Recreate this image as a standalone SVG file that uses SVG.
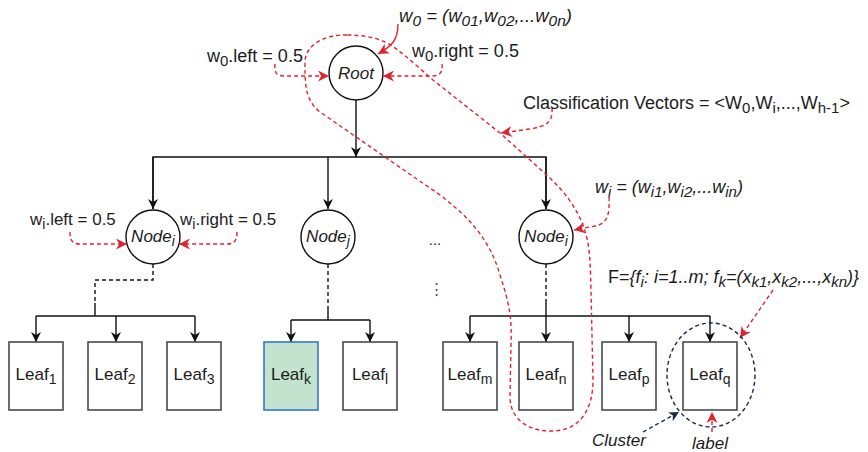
<svg xmlns="http://www.w3.org/2000/svg" width="868" height="452" viewBox="0 0 868 452">
  <defs>
    <style>
      text { font-family: "Liberation Sans", Arial, sans-serif; fill: #1c1c1c; }
      .lbl { font-size: 17px; }
      .big { font-size: 18px; }
      .it { font-style: italic; }
      .leaf { fill: #ffffff; stroke: #3b3e43; stroke-width: 1.5; }
      .leafsel { fill: #c3e3cf; stroke: #2a6fd6; stroke-width: 1.5; }
      .node { fill: #ffffff; stroke: #111111; stroke-width: 1.4; }
      .edge { fill: none; stroke: #111111; stroke-width: 1.4; }
      .edge-d { fill: none; stroke: #111111; stroke-width: 1.4; stroke-dasharray: 4 3; }
      .red { fill: none; stroke: #e0242f; stroke-width: 1.4; stroke-dasharray: 4 3; }
      .red-s { fill: none; stroke: #e0242f; stroke-width: 1.4; }
      .navy { fill: none; stroke: #1b2a49; stroke-width: 1.4; stroke-dasharray: 4 3; }
    </style>
    <marker id="ah" viewBox="0 0 10 10" refX="10" refY="5" markerWidth="10" markerHeight="10" markerUnits="userSpaceOnUse" orient="auto">
      <path d="M0,0 L10,5 L0,10 L3,5 Z" fill="#111111"/>
    </marker>
    <marker id="ahr" viewBox="0 0 10 10" refX="10" refY="5" markerWidth="11" markerHeight="11" markerUnits="userSpaceOnUse" orient="auto">
      <path d="M0,0 L10,5 L0,10 L3,5 Z" fill="#e0242f"/>
    </marker>
    <marker id="ahn" viewBox="0 0 10 10" refX="10" refY="5" markerWidth="10" markerHeight="10" markerUnits="userSpaceOnUse" orient="auto">
      <path d="M0,0 L10,5 L0,10 L3,5 Z" fill="#1b2a49"/>
    </marker>
  </defs>

  <!-- tree connectors -->
  <g id="connectors">
    <line class="edge" x1="356" y1="100" x2="356" y2="157" marker-end="url(#ah)"/>
    <polyline class="edge" points="153,209 153,157 546,157 546,209"/>
    <line class="edge" x1="153" y1="157" x2="153" y2="209" marker-end="url(#ah)"/>
    <line class="edge" x1="328" y1="157" x2="328" y2="209" marker-end="url(#ah)"/>
    <line class="edge" x1="546" y1="157" x2="546" y2="209" marker-end="url(#ah)"/>

    <!-- Node_i (left) to leaves 1..3 -->
    <path class="edge-d" d="M153,264 V280 H95 V303"/>
    <line class="edge" x1="95" y1="303" x2="95" y2="316" stroke-width="2"/>
    <polyline class="edge" points="36,316 195,316"/>
    <line class="edge" x1="36" y1="316" x2="36" y2="342" marker-end="url(#ah)"/>
    <line class="edge" x1="116" y1="316" x2="116" y2="342" marker-end="url(#ah)"/>
    <line class="edge" x1="195" y1="316" x2="195" y2="342" marker-end="url(#ah)"/>

    <!-- Node_j to leaves k, l -->
    <line class="edge-d" x1="328" y1="264" x2="328" y2="308"/>
    <line class="edge" x1="328" y1="308" x2="328" y2="320" stroke-width="2"/>
    <polyline class="edge" points="291,320 370,320"/>
    <line class="edge" x1="291" y1="320" x2="291" y2="342" marker-end="url(#ah)"/>
    <line class="edge" x1="370" y1="320" x2="370" y2="342" marker-end="url(#ah)"/>

    <!-- Node_i (right) to leaves m..q -->
    <line class="edge-d" x1="546" y1="264" x2="546" y2="300"/>
    <line class="edge" x1="546" y1="300" x2="546" y2="316" stroke-width="2"/>
    <polyline class="edge" points="470,316 710,316"/>
    <line class="edge" x1="470" y1="316" x2="470" y2="342" marker-end="url(#ah)"/>
    <line class="edge" x1="546" y1="316" x2="546" y2="342" marker-end="url(#ah)"/>
    <line class="edge" x1="629" y1="316" x2="629" y2="342" marker-end="url(#ah)"/>
    <line class="edge" x1="710" y1="316" x2="710" y2="342" marker-end="url(#ah)"/>
  </g>

  <!-- nodes -->
  <g id="root">
    <circle class="node" cx="356" cy="73" r="27"/>
    <text class="lbl it" x="356" y="79" text-anchor="middle">Root</text>
  </g>
  <g id="node-i-left">
    <circle class="node" cx="153" cy="237" r="27"/>
    <text class="lbl it" x="153" y="242" text-anchor="middle">Node<tspan dy="4" font-size="14">i</tspan></text>
  </g>
  <g id="node-j">
    <circle class="node" cx="328" cy="237" r="27"/>
    <text class="lbl it" x="328" y="242" text-anchor="middle">Node<tspan dy="4" font-size="14">j</tspan></text>
  </g>
  <g id="node-i-right">
    <circle class="node" cx="546" cy="237" r="27"/>
    <text class="lbl it" x="546" y="242" text-anchor="middle">Node<tspan dy="4" font-size="14">i</tspan></text>
  </g>

  <g id="leaf-1"><rect class="leaf" x="9" y="342" width="54" height="68"/><text x="36" y="380" font-size="17" text-anchor="middle">Leaf<tspan dy="4" font-size="14">1</tspan></text></g>
  <g id="leaf-2"><rect class="leaf" x="88" y="342" width="54" height="68"/><text x="115" y="380" font-size="17" text-anchor="middle">Leaf<tspan dy="4" font-size="14">2</tspan></text></g>
  <g id="leaf-3"><rect class="leaf" x="167" y="342" width="54" height="68"/><text x="194" y="380" font-size="17" text-anchor="middle">Leaf<tspan dy="4" font-size="14">3</tspan></text></g>
  <g id="leaf-k"><rect class="leafsel" x="264" y="342" width="54" height="68"/><text x="291" y="380" font-size="17" text-anchor="middle">Leaf<tspan dy="4" font-size="14">k</tspan></text></g>
  <g id="leaf-l"><rect class="leaf" x="343" y="342" width="54" height="68"/><text x="370" y="380" font-size="17" text-anchor="middle">Leaf<tspan dy="4" font-size="14">l</tspan></text></g>
  <g id="leaf-m"><rect class="leaf" x="443" y="342" width="54" height="68"/><text x="470" y="380" font-size="17" text-anchor="middle">Leaf<tspan dy="4" font-size="14">m</tspan></text></g>
  <g id="leaf-n"><rect class="leaf" x="519" y="342" width="54" height="68"/><text x="546" y="380" font-size="17" text-anchor="middle">Leaf<tspan dy="4" font-size="14">n</tspan></text></g>
  <g id="leaf-p"><rect class="leaf" x="602" y="342" width="54" height="68"/><text x="629" y="380" font-size="17" text-anchor="middle">Leaf<tspan dy="4" font-size="14">p</tspan></text></g>
  <g id="leaf-q"><rect class="leaf" x="683" y="342" width="54" height="68"/><text x="710" y="380" font-size="17" text-anchor="middle">Leaf<tspan dy="4" font-size="14">q</tspan></text></g>

  <!-- ellipsis marks between subtrees -->
  <text x="435" y="245" font-size="15" text-anchor="middle">...</text>
  <text x="436" y="294" font-size="15" text-anchor="middle" style="fill:#4a3a8c">⋮</text>

  <!-- annotations -->
  <g id="annotations">
    <!-- classification path loop -->
    <path class="red" d="M347,35 C325,34 305,45 305,62 C305,85 305,100 320,112 L440,195 C470,218 490,240 500,275 C510,305 512,320 511,345 L510,395 C509,420 530,432 553,431 C580,430 593,410 593,380 L591,290 C590,255 590,240 580,218 C570,198 560,188 550,178 L500,133 L433,80 C410,60 400,50 385,42 C375,37 360,35 347,35 Z"/>

    <path class="red-s" d="M398,24 C398,40 392,46 378,54" marker-end="url(#ahr)"/>
    <path class="red" d="M275,64 C274,72 276,76 284,76 L329,76" marker-end="url(#ahr)"/>
    <path class="red" d="M442,64 C443,72 440,76 432,76 L383,76" marker-end="url(#ahr)"/>
    <path class="red" d="M552,108 C553,124 545,126 530,129 L501,133" marker-end="url(#ahr)"/>
    <path class="red" d="M609,197 C610,215 607,224 595,226 L574,230" marker-end="url(#ahr)"/>
    <path class="red" d="M70,232 C70,240 72,244 80,244 L127,244" marker-end="url(#ahr)"/>
    <path class="red" d="M237,232 C237,240 235,244 227,244 L179,244" marker-end="url(#ahr)"/>
    <path class="red" d="M773,290 L740,338" marker-end="url(#ahr)"/>
    <path class="red" d="M712,432 L712,412" marker-end="url(#ahr)"/>

    <!-- cluster outline -->
    <ellipse class="navy" cx="711" cy="375" rx="44" ry="52"/>
    <path class="navy" d="M643,432 L679,412" marker-end="url(#ahn)"/>

    <text class="it" font-size="18.5" x="399" y="22">w<tspan dy="4" font-size="15.5">0</tspan><tspan dy="-4"> = (w</tspan><tspan dy="4" font-size="15.5">01</tspan><tspan dy="-4">,w</tspan><tspan dy="4" font-size="15.5">02</tspan><tspan dy="-4">,...w</tspan><tspan dy="4" font-size="15.5">0n</tspan><tspan dy="-4">)</tspan></text>
    <text class="big" x="207" y="62">w<tspan dy="4" font-size="15">0</tspan><tspan dy="-4">.left = 0.5</tspan></text>
    <text class="big" x="412" y="57">w<tspan dy="4" font-size="15">0</tspan><tspan dy="-4">.right = 0.5</tspan></text>
    <text class="big" x="523" y="109">Classification Vectors = &lt;W<tspan dy="4" font-size="15">0</tspan><tspan dy="-4">,W</tspan><tspan dy="4" font-size="15">i</tspan><tspan dy="-4">,...,W</tspan><tspan dy="4" font-size="15">h-1</tspan><tspan dy="-4">&gt;</tspan></text>
    <text class="it" font-size="18" x="595" y="193">w<tspan dy="4" font-size="15">i</tspan><tspan dy="-4"> = (w</tspan><tspan dy="4" font-size="15">i1</tspan><tspan dy="-4">,w</tspan><tspan dy="4" font-size="15">i2</tspan><tspan dy="-4">,...w</tspan><tspan dy="4" font-size="15">in</tspan><tspan dy="-4">)</tspan></text>
    <text class="lbl" x="30" y="225">w<tspan dy="4" font-size="14">i</tspan><tspan dy="-4">.left = 0.5</tspan></text>
    <text class="lbl" x="180" y="225">w<tspan dy="4" font-size="14">i</tspan><tspan dy="-4">.right = 0.5</tspan></text>
    <text class="big" x="608" y="283">F=<tspan font-style="italic">{f</tspan><tspan dy="4" font-size="15" font-style="italic">i</tspan><tspan dy="-4" font-style="italic">: i=1..m; f</tspan><tspan dy="4" font-size="15" font-style="italic">k</tspan><tspan dy="-4" font-style="italic">=(x</tspan><tspan dy="4" font-size="15" font-style="italic">k1</tspan><tspan dy="-4" font-style="italic">,x</tspan><tspan dy="4" font-size="15" font-style="italic">k2</tspan><tspan dy="-4" font-style="italic">,...,x</tspan><tspan dy="4" font-size="15" font-style="italic">kn</tspan><tspan dy="-4" font-style="italic">)}</tspan></text>
    <text class="lbl it" x="592" y="446">Cluster</text>
    <text class="lbl it" x="692" y="449">label</text>
  </g>
</svg>
